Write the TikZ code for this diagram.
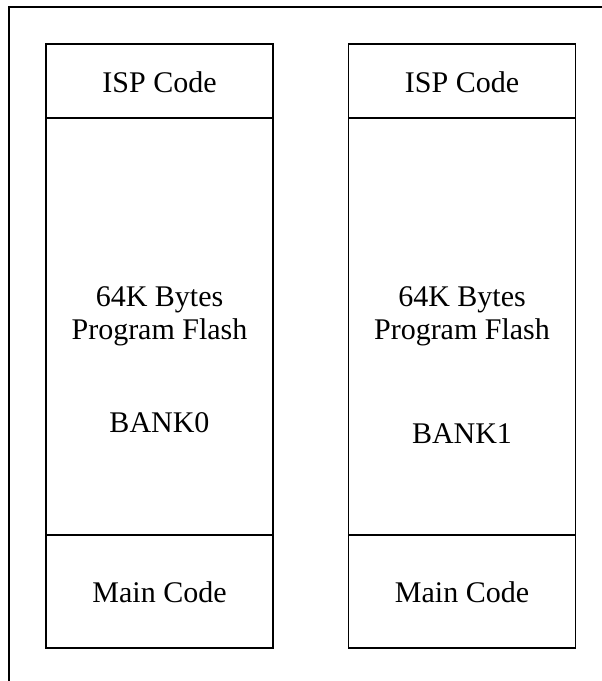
\documentclass[tikz,border=0pt]{standalone}
\usepackage{fontspec}
\setmainfont{Liberation Serif}
\begin{document}
\begin{tikzpicture}[x=1pt,y=-1pt,
  box/.style={draw=black, line width=1.5pt, rectangle, inner sep=0pt, minimum width=227pt},
  lbl/.style={anchor=base, inner sep=0pt, font=\fontsize{30}{33}\selectfont}]
\useasboundingbox (0,0) rectangle (602,681);
\coordinate (fa) at (9,681);
\coordinate (fb) at (9,7);
\coordinate (fc) at (602,7);
\draw[line width=1.5pt] (fa) -- (fb) -- (fc);
% left column
\node[box, minimum height=74pt] (isp0) at (159.5,81) {};
\node[box, minimum height=417pt] (flash0) at (159.5,326.5) {};
\node[box, minimum height=113pt] (main0) at (159.5,591.5) {};
% right column
\node[box, minimum height=74pt] (isp1) at (462,81) {};
\node[box, minimum height=417pt] (flash1) at (462,326.5) {};
\node[box, minimum height=113pt] (main1) at (462,591.5) {};
% labels
\node[lbl] (t0a) at (159.5,92) {ISP Code};
\node[lbl] (t0b) at (159.5,306) {64K Bytes};
\node[lbl] (t0c) at (159.5,339) {Program Flash};
\node[lbl] (t0d) at (159.5,432) {BANK0};
\node[lbl] (t0e) at (159.5,602) {Main Code};
\node[lbl] (t1a) at (462,92) {ISP Code};
\node[lbl] (t1b) at (462,306) {64K Bytes};
\node[lbl] (t1c) at (462,339) {Program Flash};
\node[lbl] (t1d) at (462,443) {BANK1};
\node[lbl] (t1e) at (462,602) {Main Code};
\end{tikzpicture}
\end{document}
